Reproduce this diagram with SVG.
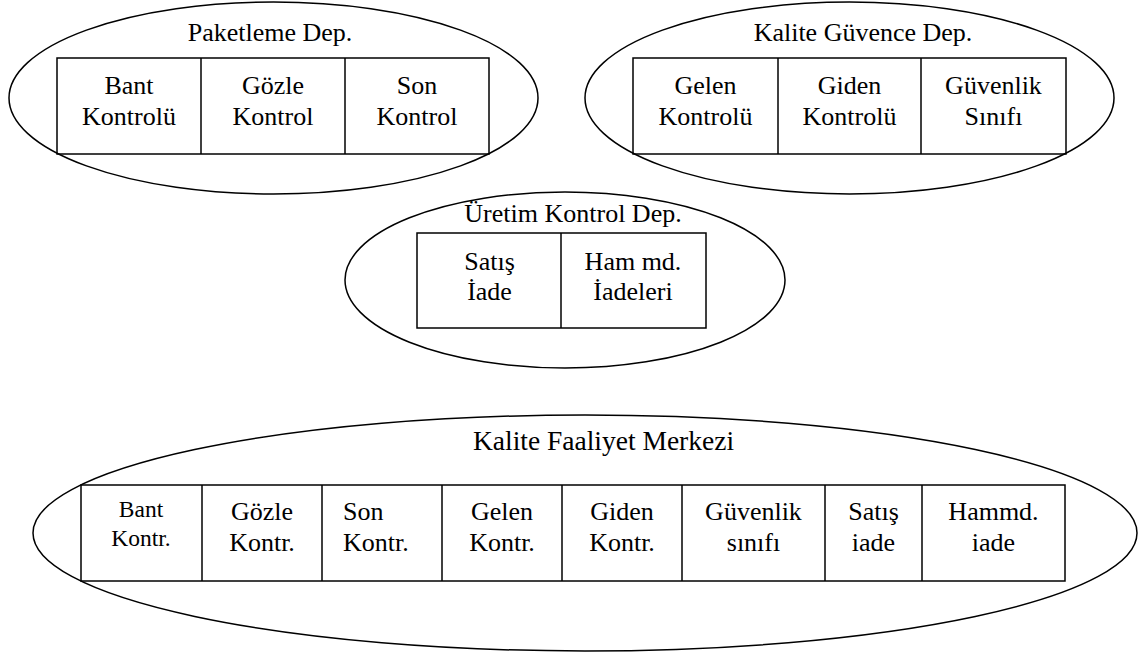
<svg xmlns="http://www.w3.org/2000/svg" width="1138" height="652" viewBox="0 0 1138 652" font-family="'Liberation Serif', 'DejaVu Serif', serif">
  <style>
    .ell { fill: none; stroke: #000; stroke-width: 1.5; }
    .box { fill: none; stroke: #000; stroke-width: 1.5; }
    .div { stroke: #000; stroke-width: 1.5; }
    text { font-family: "Liberation Serif", "DejaVu Serif", serif; font-size: 26px; fill: #000; text-anchor: middle; }
    .small { font-size: 23.5px; }
    .title-big { font-size: 27.5px; }
    .left { text-anchor: start; }
  </style>
  <rect width="1138" height="652" fill="#fff"/>

  <!-- Paketleme department -->
  <g id="paketleme">
    <ellipse class="ell" cx="273.5" cy="98" rx="264.5" ry="96"/>
    <text x="270" y="41">Paketleme Dep.</text>
    <rect class="box" x="57" y="58" width="432" height="96"/>
    <line class="div" x1="201" y1="58" x2="201" y2="154"/>
    <line class="div" x1="345" y1="58" x2="345" y2="154"/>
    <text x="129" y="94">Bant</text>
    <text x="129" y="125">Kontrolü</text>
    <text x="273" y="94">Gözle</text>
    <text x="273" y="125">Kontrol</text>
    <text x="417" y="94">Son</text>
    <text x="417" y="125">Kontrol</text>
  </g>

  <!-- Kalite Güvence department -->
  <g id="kalite-guvence">
    <ellipse class="ell" cx="849.5" cy="98" rx="264.5" ry="96"/>
    <text x="863" y="41">Kalite Güvence Dep.</text>
    <rect class="box" x="633" y="58" width="433" height="96"/>
    <line class="div" x1="778" y1="58" x2="778" y2="154"/>
    <line class="div" x1="921" y1="58" x2="921" y2="154"/>
    <text x="705.5" y="94">Gelen</text>
    <text x="705.5" y="125">Kontrolü</text>
    <text x="849.5" y="94">Giden</text>
    <text x="849.5" y="125">Kontrolü</text>
    <text x="993.5" y="94">Güvenlik</text>
    <text x="993.5" y="125">Sınıfı</text>
  </g>

  <!-- Üretim Kontrol department -->
  <g id="uretim-kontrol">
    <ellipse class="ell" cx="565" cy="280" rx="220" ry="88"/>
    <text x="573" y="222">Üretim Kontrol Dep.</text>
    <rect class="box" x="417" y="233" width="289" height="95"/>
    <line class="div" x1="561" y1="233" x2="561" y2="328"/>
    <text x="489.5" y="270">Satış</text>
    <text x="489.5" y="300">İade</text>
    <text x="633" y="270">Ham md.</text>
    <text x="633" y="300">İadeleri</text>
  </g>

  <!-- Kalite Faaliyet Merkezi -->
  <g id="kalite-faaliyet">
    <ellipse class="ell" cx="585" cy="533" rx="552" ry="118"/>
    <text class="title-big" x="603.5" y="450">Kalite Faaliyet Merkezi</text>
    <rect class="box" x="81" y="485" width="984" height="96"/>
    <line class="div" x1="202" y1="485" x2="202" y2="581"/>
    <line class="div" x1="322" y1="485" x2="322" y2="581"/>
    <line class="div" x1="442" y1="485" x2="442" y2="581"/>
    <line class="div" x1="562" y1="485" x2="562" y2="581"/>
    <line class="div" x1="682" y1="485" x2="682" y2="581"/>
    <line class="div" x1="825" y1="485" x2="825" y2="581"/>
    <line class="div" x1="922" y1="485" x2="922" y2="581"/>
    <text class="small" x="141" y="517">Bant</text>
    <text class="small" x="141" y="546">Kontr.</text>
    <text x="262" y="520">Gözle</text>
    <text x="262" y="551">Kontr.</text>
    <text class="left" x="343" y="520">Son</text>
    <text class="left" x="343" y="551">Kontr.</text>
    <text x="502" y="520">Gelen</text>
    <text x="502" y="551">Kontr.</text>
    <text x="622" y="520">Giden</text>
    <text x="622" y="551">Kontr.</text>
    <text x="753.5" y="520">Güvenlik</text>
    <text x="753.5" y="551">sınıfı</text>
    <text x="873.5" y="520">Satış</text>
    <text x="873.5" y="551">iade</text>
    <text x="993.5" y="520">Hammd.</text>
    <text x="993.5" y="551">iade</text>
  </g>
</svg>
